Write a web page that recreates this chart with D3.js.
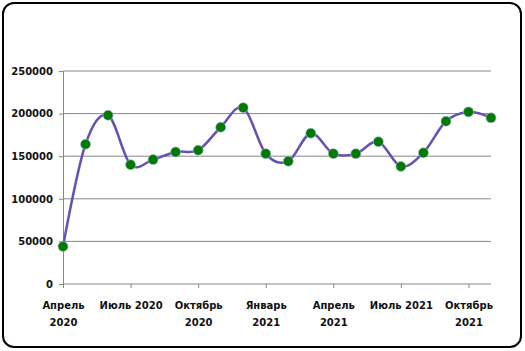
<!DOCTYPE html>
<html>
<head>
<meta charset="utf-8">
<script src="https://cdn.jsdelivr.net/npm/d3@7"></script>
<style>
  body { margin: 0; background: #fff; }
  svg { display: block; }
</style>
</head>
<body>
<svg id="chart"></svg>
<script>
// months from April 2020 to November 2021
const months = ["2020-04", "2020-05", "2020-06", "2020-07", "2020-08", "2020-09", "2020-10",
  "2020-11", "2020-12", "2021-01", "2021-02", "2021-03", "2021-04", "2021-05", "2021-06",
  "2021-07", "2021-08", "2021-09", "2021-10", "2021-11"]
const values = [44000, 164000, 198000, 140000, 146000, 155000, 157000, 184000, 207000, 153000,
  144000, 177000, 153000, 153000, 167000, 138000, 154000, 191000, 202000, 195000]
const tickIndex = [0, 3, 6, 9, 12, 15, 18]
const tickLabels = ["Апрель 2020", "Июль 2020", "Октябрь 2020", "Январь 2021",
  "Апрель 2021", "Июль 2021", "Октябрь 2021"]
const yTicks = [0, 50000, 100000, 150000, 200000, 250000]

const width = 525, height = 351
const margin = {top: 71, right: 34, bottom: 67, left: 63}

const svg = d3.select('#chart')
  .attr('width', width)
  .attr('height', height)

// outer frame
svg.append('rect')
  .attr('x', 3).attr('y', 3)
  .attr('width', 518).attr('height', 344)
  .attr('rx', 11)
  .attr('fill', '#fff')
  .attr('stroke', '#000')
  .attr('stroke-width', 2)

const x = d3.scaleLinear()
  .domain([0, months.length - 1])
  .range([margin.left, width - margin.right])

const y = d3.scaleLinear()
  .domain([0, 250000])
  .range([height - margin.bottom, margin.top])

const font = 'DejaVu Sans, sans-serif'

// gridlines
svg.append('g')
  .selectAll('line')
  .data(yTicks.filter(d => d > 0))
  .join('line')
  .attr('x1', x(0)).attr('x2', x(months.length - 1))
  .attr('y1', d => y(d)).attr('y2', d => y(d))
  .attr('stroke', '#868686')
  .attr('stroke-width', 1)

// y axis
const yAxis = svg.append('g')
  .attr('transform', `translate(${x(0)},0)`)
  .call(d3.axisLeft(y).tickValues(yTicks).tickSize(4).tickPadding(6).tickFormat(d3.format('d')))
yAxis.select('.domain').attr('stroke', '#868686')
yAxis.selectAll('.tick line').attr('stroke', '#868686')
yAxis.selectAll('text')
  .attr('font-family', font)
  .attr('font-weight', 'bold')
  .attr('font-size', 10)
  .attr('fill', '#111')

// x axis
const xAxis = svg.append('g')
  .attr('transform', `translate(0,${y(0)})`)
  .call(d3.axisBottom(x).tickValues(tickIndex).tickSize(4).tickFormat(''))
xAxis.select('.domain').attr('stroke', '#868686')
  .attr('d', `M${x(0)},0H${x(months.length - 1)}`)
xAxis.selectAll('.tick line').attr('stroke', '#868686')

// x labels, wrapped when too wide
const labelGap = (x(3) - x(0)) - 2
xAxis.selectAll('.tick').each(function(d, i) {
  const t = d3.select(this).append('text')
    .attr('font-family', font)
    .attr('font-weight', 'bold')
    .attr('font-size', 10)
    .attr('fill', '#111')
    .attr('text-anchor', 'middle')
    .attr('y', 25)
    .text(tickLabels[i])
  if (t.node().getComputedTextLength() > labelGap) {
    const words = tickLabels[i].split(' ')
    t.text(null)
    words.forEach((w, k) => {
      t.append('tspan').attr('x', 0).attr('dy', k === 0 ? 0 : 16.5).text(w)
    })
  }
})

// smoothed line
const line = d3.line()
  .x((d, i) => x(i))
  .y(d => y(d))
  .curve(d3.curveCardinal.tension(0))

svg.append('path')
  .datum(values)
  .attr('d', line)
  .attr('fill', 'none')
  .attr('stroke', '#6652b3')
  .attr('stroke-width', 2.5)

svg.append('g')
  .selectAll('circle')
  .data(values)
  .join('circle')
  .attr('cx', (d, i) => x(i))
  .attr('cy', d => y(d))
  .attr('r', 5)
  .attr('fill', '#007a00')
  .attr('stroke', '#a9b8e0')
  .attr('stroke-width', 0.6)
</script>
</body>
</html>
